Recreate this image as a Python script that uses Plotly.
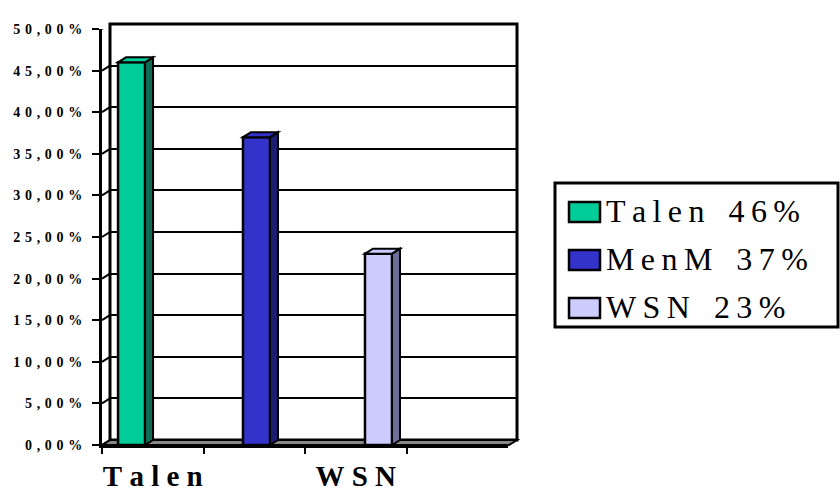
import plotly.graph_objects as go

# ---- data ----
categories = ["Talen", "MenM", "WSN", " "]
series_names = ["Talen", "MenM", "WSN"]
series_values = [0.46, 0.37, 0.23]
legend_pcts = [46, 37, 23]
shown_labels = ["Talen", "", "WSN", ""]
y_ticks = [0.0, 0.05, 0.10, 0.15, 0.20, 0.25, 0.30, 0.35, 0.40, 0.45, 0.50]

# ---- style ----
face_colors = ["#00CC99", "#3333CC", "#CCCCFF"]
side_colors = ["#0F6B52", "#1C1C70", "#6E6E9A"]
bar_offsets = [-0.342, -0.111, 0.091]
bar_width = 0.266
W, H = 840, 490
FX0, FX1, FY0, FY1 = 102, 508, 445, 29      # front plane (px)
DX, DY = 8, 5                                  # depth offset (px)
BX0, BX1, BY0, BY1 = FX0 + DX, 517, FY0 - DY, FY1 - DY
SERIF = "Liberation Serif"


def px(x):
    return x / W


def py(y):
    return 1 - y / H


def spaced(s, sep="\u00a0"):
    return sep.join(list(s))


def pct_label(v):
    return spaced(f"{v*100:.2f}".replace(".", ",") + "%", "\u2004")


cat_w = (FX1 - FX0) / len(categories)
val_px = (FY0 - FY1) / (y_ticks[-1] - y_ticks[0])
dxc = DX / cat_w
dyv = DY / val_px

fig = go.Figure()

# invisible anchor trace for the back wall subplot
fig.add_trace(go.Scatter(x=[0], y=[0], mode="markers", marker=dict(opacity=0),
                         hoverinfo="skip", showlegend=False, xaxis="x", yaxis="y"))

shapes = []
for i, (name, val) in enumerate(zip(series_names, series_values)):
    fig.add_trace(go.Bar(
        x=[categories[i]], y=[val], name=name,
        xaxis="x2", yaxis="y2",
        width=bar_width, offset=bar_offsets[i],
        marker=dict(color=face_colors[i], line=dict(color="black", width=2.5)),
        showlegend=False,
    ))
    x0 = i + bar_offsets[i]
    x1 = x0 + bar_width
    # right side face
    shapes.append(dict(
        type="path", xref="x2", yref="y2",
        path=f"M{x1},0 L{x1+dxc},{dyv} L{x1+dxc},{val+dyv} L{x1},{val} Z",
        fillcolor=side_colors[i], line=dict(color="black", width=2),
    ))
    # top face
    shapes.append(dict(
        type="path", xref="x2", yref="y2",
        path=f"M{x0},{val} L{x0+dxc},{val+dyv} L{x1+dxc},{val+dyv} L{x1},{val} Z",
        fillcolor=face_colors[i], line=dict(color="black", width=2),
    ))

# back wall border
shapes.append(dict(type="rect", xref="paper", yref="paper", layer="below",
                   x0=px(BX0), x1=px(BX1), y0=py(BY0), y1=py(BY1),
                   line=dict(color="black", width=3), fillcolor="rgba(0,0,0,0)"))
# floor
shapes.append(dict(type="path", xref="paper", yref="paper", layer="below",
                   path=(f"M{px(FX0)},{py(FY0)} L{px(BX0)},{py(BY0)} "
                         f"L{px(BX1)},{py(BY0)} L{px(BX1 - DX)},{py(FY0)} Z"),
                   fillcolor="#888888", line=dict(color="black", width=2)))
# left wall grid diagonals
for v in y_ticks:
    shapes.append(dict(type="line", xref="paper", yref="y2",
                       x0=px(FX0), x1=px(BX0), y0=v, y1=v + dyv,
                       line=dict(color="black", width=2)))

# legend (custom, Excel-like)
LX0, LX1, LY0, LY1 = 555, 838, 183, 327
shapes.append(dict(type="rect", xref="paper", yref="paper",
                   x0=px(LX0), x1=px(LX1), y0=py(LY1), y1=py(LY0),
                   line=dict(color="black", width=3), fillcolor="white"))
annotations = []
row_centers = [212, 260, 308]
for i, name in enumerate(series_names):
    cy = row_centers[i]
    shapes.append(dict(type="rect", xref="paper", yref="paper",
                       x0=px(569), x1=px(600), y0=py(cy + 10), y1=py(cy - 10),
                       line=dict(color="black", width=2.5), fillcolor=face_colors[i]))
    annotations.append(dict(
        xref="paper", yref="paper", x=px(604), y=py(cy - 1), xanchor="left", yanchor="middle",
        text=spaced(name, "\u2009") + "\u00a0\u00a0\u00a0" + spaced(f"{legend_pcts[i]}%", "\u2009"),
        showarrow=False, font=dict(family=SERIF, size=32, color="black"),
    ))

fig.update_layout(
    width=W, height=H, autosize=False,
    margin=dict(l=0, r=0, t=0, b=0, autoexpand=False),
    paper_bgcolor="white", plot_bgcolor="rgba(0,0,0,0)",
    showlegend=False, barmode="overlay",
    xaxis=dict(domain=[px(BX0), px(BX1)], anchor="y", range=[0, 1], automargin=False,
               visible=False, showgrid=False, zeroline=False),
    yaxis=dict(domain=[py(BY0), py(BY1)], anchor="x", range=[y_ticks[0], y_ticks[-1]],
               automargin=False,
               tickmode="array", tickvals=y_ticks, showticklabels=False, ticks="",
               showgrid=True, gridcolor="black", gridwidth=2, zeroline=False, showline=False),
    xaxis2=dict(domain=[px(FX0), px(FX1)], anchor="y2", type="category", automargin=False,
                categoryorder="array", categoryarray=categories, range=[-0.5, len(categories) - 0.5],
                tickmode="array", tickvals=categories, ticktext=[spaced(t) for t in shown_labels],
                tickangle=0,
                tickson="boundaries", ticks="outside", ticklen=6, tickwidth=2, tickcolor="black",
                showline=True, linewidth=3, linecolor="black", showgrid=False, zeroline=False,
                tickfont=dict(family=SERIF, size=29, color="black", weight="bold"),
                ticklabelstandoff=3),
    yaxis2=dict(domain=[py(FY0), py(FY1)], anchor="x2", range=[y_ticks[0], y_ticks[-1]],
                automargin=False,
                tickmode="array", tickvals=y_ticks, ticktext=[pct_label(v) for v in y_ticks],
                ticks="outside", ticklen=7, tickwidth=2, tickcolor="black",
                showline=True, linewidth=3, linecolor="black", showgrid=False, zeroline=False,
                tickfont=dict(family=SERIF, size=14, color="black", weight="bold"),
                ticklabelstandoff=7),
    shapes=shapes, annotations=annotations,
)

fig.write_html(
    "out.html",
    config={"displayModeBar": False},
    post_script="document.body.style.margin='0';document.body.style.overflow='hidden';",
)
